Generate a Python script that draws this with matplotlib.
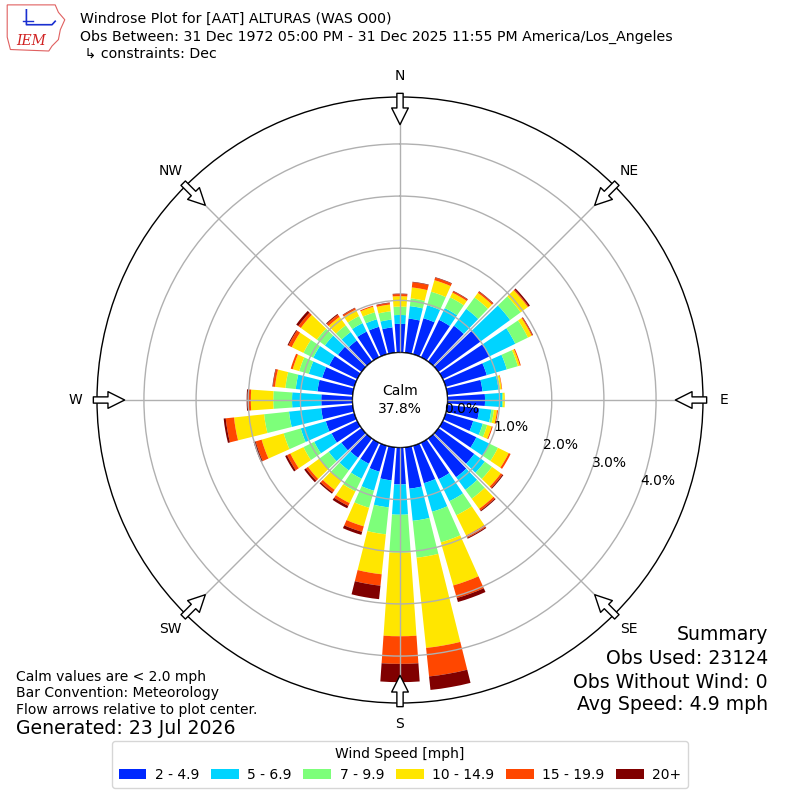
import numpy as np
import matplotlib
matplotlib.use("Agg")
import matplotlib.pyplot as plt
from matplotlib.patches import Circle, Patch, Polygon

# ---------------- data ----------------
directions = np.arange(0, 360, 10)  # degrees (meteorological, wind from)
speed_labels = ["2 - 4.9", "5 - 6.9", "7 - 9.9", "10 - 14.9", "15 - 19.9", "20+"]
# frequency (%) per direction for each speed bin
spd_2_5 = [0.55, 0.66, 0.72, 0.80, 0.85, 1.00, 1.00, 0.82, 0.68, 0.72, 0.62, 0.55,
           0.72, 0.85, 0.92, 0.78, 0.75, 0.80, 0.71, 0.64, 0.52, 0.45, 0.46, 0.48,
           0.55, 0.57, 0.61, 0.60, 0.68, 0.64, 0.60, 0.56, 0.50, 0.55, 0.55, 0.49]
spd_5_7 = [0.17, 0.24, 0.26, 0.25, 0.40, 0.70, 0.55, 0.40, 0.31, 0.33, 0.23, 0.19,
           0.28, 0.25, 0.30, 0.47, 0.57, 0.62, 0.58, 0.52, 0.38, 0.32, 0.30, 0.30,
           0.37, 0.50, 0.62, 0.56, 0.42, 0.27, 0.34, 0.31, 0.20, 0.18, 0.15, 0.15]
spd_7_10 = [0.16, 0.15, 0.27, 0.23, 0.27, 0.25, 0.27, 0.22, 0.03, 0.02, 0.05, 0.09,
            0.18, 0.17, 0.21, 0.30, 0.61, 0.71, 0.73, 0.52, 0.34, 0.27, 0.24, 0.22,
            0.23, 0.34, 0.48, 0.36, 0.20, 0.19, 0.21, 0.19, 0.16, 0.15, 0.14, 0.16]
spd_10_15 = [0.20, 0.21, 0.23, 0.10, 0.11, 0.17, 0.08, 0.04, 0.03, 0.03, 0.06, 0.09,
             0.23, 0.21, 0.24, 0.43, 0.86, 1.74, 1.60, 0.77, 0.37, 0.25, 0.22, 0.27,
             0.28, 0.44, 0.58, 0.43, 0.20, 0.13, 0.25, 0.38, 0.20, 0.14, 0.11, 0.13]
spd_15_20 = [0.04, 0.10, 0.05, 0.03, 0.03, 0.02, 0.02, 0.02, 0.01, 0.00, 0.02, 0.02,
             0.04, 0.04, 0.04, 0.05, 0.25, 0.55, 0.53, 0.22, 0.11, 0.06, 0.06, 0.05,
             0.07, 0.12, 0.16, 0.06, 0.04, 0.04, 0.07, 0.06, 0.05, 0.03, 0.02, 0.03]
spd_20p = [0.01, 0.01, 0.01, 0.01, 0.01, 0.03, 0.01, 0.00, 0.00, 0.00, 0.00, 0.00,
           0.00, 0.02, 0.02, 0.02, 0.08, 0.26, 0.35, 0.26, 0.06, 0.05, 0.03, 0.04,
           0.04, 0.04, 0.04, 0.02, 0.01, 0.00, 0.02, 0.05, 0.02, 0.01, 0.00, 0.01]
calm_pct = 37.8
ring_values = [0, 1, 2, 3, 4]
compass_names = ["N", "NE", "E", "SE", "S", "SW", "W", "NW"]
compass_angles = [0, 45, 90, 135, 180, 225, 270, 315]

colors = ["#0028ff", "#00d4ff", "#7dff7a", "#ffe600", "#ff4700", "#800000"]

# ---------------- figure ----------------
fig = plt.figure(figsize=(8, 8), dpi=100)
ax = fig.add_axes([0.12125, 0.12125, 0.7575, 0.7575], projection="polar")
ax.set_theta_zero_location("N")
ax.set_theta_direction(-1)
R0 = 0.91
RMAX = 4.90
ax.set_rorigin(-R0)
ax.set_rlim(0, RMAX)
ax.set_axisbelow(False)

theta = np.deg2rad(directions)
width = np.deg2rad(8)
bottom = np.zeros(len(directions))
for vals, col in zip([spd_2_5, spd_5_7, spd_7_10, spd_10_15, spd_15_20, spd_20p], colors):
    vals = np.asarray(vals)
    ax.bar(theta, vals, width=width, bottom=bottom, color=col, edgecolor="none",
           linewidth=0, zorder=2)
    bottom = bottom + vals

ax.set_rgrids([1, 2, 3, 4], labels=[""] * 4)
ax.set_thetagrids(compass_angles, labels=[""] * 8)
ax.grid(True, color="#b0b0b0", linewidth=1.0)
ax.spines["polar"].set_linewidth(1.0)
ax.spines["polar"].set_color("black")

# calm circle
calm = Circle((0.5, 0.5), 47.5 / 606.0, transform=ax.transAxes, facecolor="white",
              edgecolor="black", linewidth=1.0, zorder=3)
ax.add_patch(calm)
ax.text(0.5, 0.5, f"Calm\n{calm_pct:.1f}%", transform=ax.transAxes, ha="center",
        va="center", fontsize=10, zorder=4, linespacing=1.3)

# ring labels
for r in ring_values:
    ax.text(np.deg2rad(110), r, f"{r:.1f}%", ha="left", va="bottom", fontsize=10, zorder=5)

# compass labels and flow arrows
for ang, name in zip(compass_angles, compass_names):
    th = np.deg2rad(ang)
    ax.text(th, 5.31, name, ha="center", va="center", fontsize=10, clip_on=False)
    ax.annotate("", xy=(th, 4.37), xytext=(th, 4.97),
                arrowprops=dict(arrowstyle="simple,head_length=1.2,head_width=1.2,tail_width=0.45",
                                fc="white", ec="black", lw=1.0, shrinkA=0, shrinkB=0),
                annotation_clip=False, zorder=6)

# ---------------- texts ----------------
fig.text(0.1, 1 - 19 / 800, "Windrose Plot for [AAT] ALTURAS (WAS O00)", fontsize=10.2, va="center")
fig.text(0.1, 1 - 37 / 800,
         "Obs Between: 31 Dec 1972 05:00 PM - 31 Dec 2025 11:55 PM America/Los_Angeles",
         fontsize=10.2, va="center")
fig.text(0.1, 1 - 54 / 800, " \u21b3 constraints: Dec", fontsize=10.2, va="center")

fig.text(0.96, 1 - 635 / 800, "Summary", fontsize=13.6, ha="right", va="center")
fig.text(0.96, 1 - 659 / 800, "Obs Used: 23124", fontsize=13.6, ha="right", va="center")
fig.text(0.96, 1 - 682 / 800, "Obs Without Wind: 0", fontsize=13.6, ha="right", va="center")
fig.text(0.96, 1 - 705 / 800, "Avg Speed: 4.9 mph", fontsize=13.6, ha="right", va="center")

fig.text(0.02, 1 - 677 / 800, "Calm values are < 2.0 mph", fontsize=10, va="center")
fig.text(0.02, 1 - 693 / 800, "Bar Convention: Meteorology", fontsize=10, va="center")
fig.text(0.02, 1 - 710 / 800, "Flow arrows relative to plot center.", fontsize=10, va="center")
fig.text(0.02, 1 - 729 / 800, "Generated: 23 Jul 2026", fontsize=13.6, va="center")

handles = [Patch(facecolor=c, edgecolor="none") for c in colors]
fig.legend(handles, speed_labels, ncol=6, loc="lower center", bbox_to_anchor=(0.5, 0.006),
           title="Wind Speed [mph]", fontsize=10, title_fontsize=10, frameon=True,
           columnspacing=0.85, handletextpad=0.6, handlelength=2.0, borderpad=0.45)

# ---------------- simple IEM logo ----------------
lax = fig.add_axes([0.005, 0.935, 0.08, 0.062])
lax.set_xlim(0, 1)
lax.set_ylim(0, 1)
lax.axis("off")
iowa = Polygon([[0.05, 0.95], [0.80, 0.95], [0.85, 0.80], [0.95, 0.65], [0.88, 0.45],
                [0.85, 0.25], [0.75, 0.12], [0.70, 0.02], [0.10, 0.05], [0.05, 0.30]],
               closed=True, fill=False, edgecolor="#e06060", linewidth=0.8)
lax.add_patch(iowa)
lax.plot([0.35, 0.35, 0.75, 0.8], [0.85, 0.55, 0.55, 0.62], color="#1a2fd0", lw=1.2)
lax.plot([0.3, 0.45], [0.62, 0.62], color="#1a2fd0", lw=1.0)
lax.text(0.42, 0.22, "IEM", color="#d02020", fontsize=10, family="DejaVu Serif",
         style="italic", ha="center", va="center")

fig.savefig("out.png", dpi=100)
